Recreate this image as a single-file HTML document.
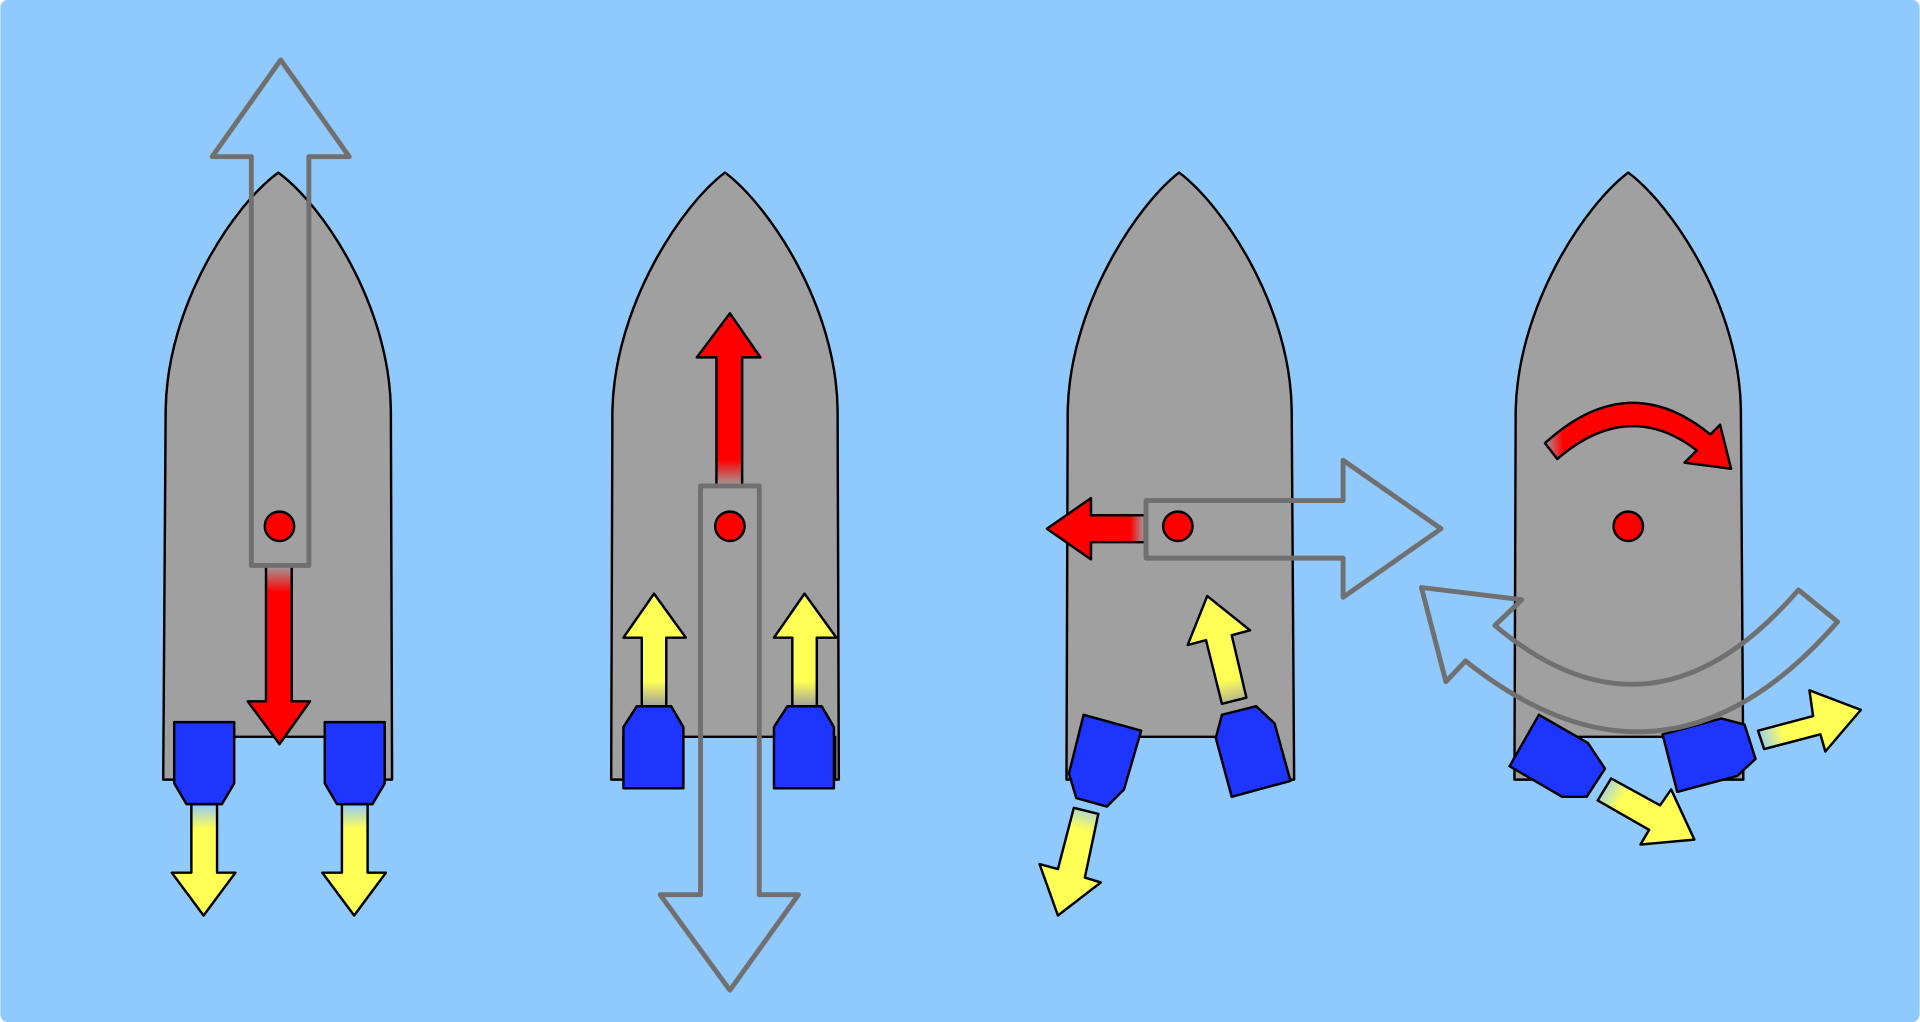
<!DOCTYPE html>
<html><head><meta charset="utf-8"><style>
html,body{margin:0;padding:0;background:#fff;}
svg{display:block;}
</style></head><body>
<svg width="1920" height="1022" viewBox="0 0 1568 835" xmlns="http://www.w3.org/2000/svg">
<defs>
<linearGradient id="rd" x1="0" y1="0" x2="0" y2="1"><stop offset="0" stop-color="#f00" stop-opacity="0"/><stop offset="0.15" stop-color="#f00"/></linearGradient>
<linearGradient id="ru" x1="0" y1="1" x2="0" y2="0"><stop offset="0" stop-color="#f00" stop-opacity="0"/><stop offset="0.15" stop-color="#f00"/></linearGradient>
<linearGradient id="rl" x1="1" y1="0" x2="0" y2="0"><stop offset="0" stop-color="#f00" stop-opacity="0"/><stop offset="0.15" stop-color="#f00"/></linearGradient>
<linearGradient id="yd" x1="0" y1="0" x2="0" y2="1"><stop offset="0" stop-color="#ff5" stop-opacity="0"/><stop offset="0.22" stop-color="#ff5"/></linearGradient>
<linearGradient id="yu" x1="0" y1="1" x2="0" y2="0"><stop offset="0" stop-color="#ff5" stop-opacity="0"/><stop offset="0.22" stop-color="#ff5"/></linearGradient>
<linearGradient id="y3a" gradientUnits="userSpaceOnUse" x1="890" y1="655" x2="864" y2="748"><stop offset="0" stop-color="#ff5" stop-opacity="0"/><stop offset="0.25" stop-color="#ff5"/></linearGradient>
<linearGradient id="y3b" gradientUnits="userSpaceOnUse" x1="1010" y1="578" x2="986" y2="487"><stop offset="0" stop-color="#ff5" stop-opacity="0"/><stop offset="0.25" stop-color="#ff5"/></linearGradient>
<linearGradient id="y4a" gradientUnits="userSpaceOnUse" x1="1308" y1="638" x2="1384" y2="686"><stop offset="0" stop-color="#ff5" stop-opacity="0"/><stop offset="0.25" stop-color="#ff5"/></linearGradient>
<linearGradient id="y4b" gradientUnits="userSpaceOnUse" x1="1436" y1="605" x2="1520" y2="580"><stop offset="0" stop-color="#ff5" stop-opacity="0"/><stop offset="0.25" stop-color="#ff5"/></linearGradient>
<linearGradient id="r4" gradientUnits="userSpaceOnUse" x1="1262" y1="372" x2="1414" y2="365"><stop offset="0" stop-color="#f00" stop-opacity="0"/><stop offset="0.1" stop-color="#f00"/></linearGradient>
</defs>
<rect x="0" y="0" width="1568" height="835" rx="6" fill="#90CAFD"/>
<g stroke="#000" stroke-width="2" stroke-linejoin="round">

<!-- Rocket 1 -->
<g>
<path fill="#a0a0a0" d="M133,637 L135,335 C136,250 190,168 227,141 C264,168 318,250 319,335 L320,637 L314,637 L314,602 L142,602 L142,637 Z"/>
<path fill="url(#rd)" d="M217,462 L238,462 L238,573 L253,573 L228,608 L202,573 L217,573 Z"/>
<polygon fill="#1E35FF" points="142,590 191,590 191,640 181,657 152,657 142,640"/>
<polygon fill="#1E35FF" points="265,590 314,590 314,640 304,657 275,657 265,640"/>
<path fill="url(#yd)" d="M156,657 L177,657 L177,713 L192,713 L166,748 L140,713 L156,713 Z"/>
<path fill="url(#yd)" d="M279,657 L300,657 L300,713 L315,713 L289,748 L263,713 L279,713 Z"/>
<circle cx="228" cy="430" r="12" fill="#f00"/>
<polygon fill="none" stroke="#707070" stroke-width="4" points="205,462 205,128 173,128 229,49 285,128 252,128 252,462"/>
</g>

<!-- Rocket 2 -->
<g>
<path fill="#a0a0a0" d="M499,637 L500,335 C502,250 556,168 592,141 C628,168 683,250 684,335 L685,637 L682,637 L682,602 L509,602 L509,637 Z"/>
<path fill="url(#ru)" d="M585,397 L606,397 L606,292 L621,292 L596,256 L569,292 L585,292 Z"/>
<polygon fill="#1E35FF" points="520,577 548,577 558,594 558,644 509,644 509,594"/>
<polygon fill="#1E35FF" points="643,577 671,577 681,594 681,644 632,644 632,594"/>
<path fill="url(#yu)" d="M524,577 L544,577 L544,521 L560,521 L534,485 L509,521 L524,521 Z"/>
<path fill="url(#yu)" d="M647,577 L667,577 L667,521 L683,521 L657,485 L632,521 L647,521 Z"/>
<circle cx="596" cy="430" r="12" fill="#f00"/>
<polygon fill="none" stroke="#707070" stroke-width="4" points="572,397 620,397 620,731 652,731 596,809 539,731 572,731"/>
</g>

<!-- Rocket 3 -->
<g>
<path fill="#a0a0a0" d="M871,637 L872,335 C874,250 928,168 963,141 C999,168 1054,250 1055,335 L1057,637 L1054,637 L1040,602 L925,602 L873,637 Z"/>
<path fill="url(#rl)" d="M935,421 L935,443 L891,443 L891,457 L855,432 L891,407 L891,421 Z"/>
<polygon fill="#1E35FF" points="885,584 932,597 918,645 904,659 879,652 873,632"/>
<polygon fill="#1E35FF" points="998,584 1026,577 1041,591 1054,638 1006,651 993,603"/>
<path fill="url(#y3a)" d="M877,660 L897,665 L886,717 L899,721 L864,748 L849,706 L864,710 Z"/>
<path fill="url(#y3b)" d="M998,575 L1018,570 L1006,519 L1021,515 L986,487 L970,527 L985,523 Z"/>
<circle cx="962" cy="430" r="12" fill="#f00"/>
<polygon fill="none" stroke="#707070" stroke-width="4" points="936,409 1097,409 1097,376 1177,432 1097,488 1097,456 936,456"/>
</g>

<!-- Rocket 4 -->
<g>
<path fill="#a0a0a0" d="M1237,637 L1238,335 C1240,250 1294,168 1330,141 C1366,168 1421,250 1422,335 L1424,637 L1390,637 L1390,602 L1265,602 L1253,637 Z"/>
<path fill="url(#r4)" d="M1262,362 Q1330,300 1397,355 L1405,347 L1414,383 L1376,378 L1386,368 Q1330,325 1272,375 Z"/>
<polygon fill="#1E35FF" points="1257,584 1297,607 1311,628 1296,651 1276,651 1233,626"/>
<polygon fill="#1E35FF" points="1358,600 1406,587 1425,592 1434,620 1419,634 1370,647"/>
<path fill="url(#y4a)" d="M1316,636 L1356,658 L1365,645 L1384,686 L1340,690 L1347,678 L1305,654 Z"/>
<path fill="url(#y4b)" d="M1436,597 L1481,585 L1478,564 L1520,580 L1491,614 L1487,600 L1441,612 Z"/>
<circle cx="1330" cy="430" r="12" fill="#f00"/>
<path fill="none" stroke="#707070" stroke-width="4" d="M1161,480 L1243,490 L1221,511 Q1350,620 1469,482 L1501,508 Q1360,670 1197,540 L1181,557 Z"/>
</g>
</g>
</svg>
</body></html>
